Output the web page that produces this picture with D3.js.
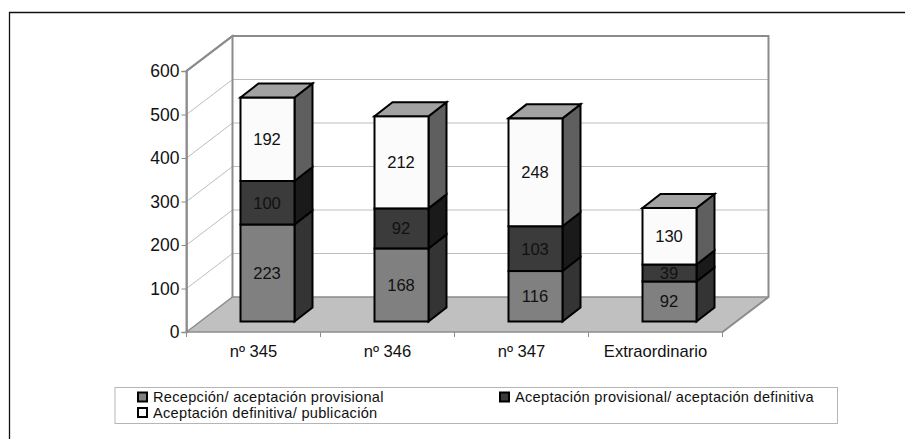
<!DOCTYPE html>
<html><head><meta charset="utf-8">
<script src="https://cdn.jsdelivr.net/npm/d3@7"></script>
<style>html,body{margin:0;padding:0;background:#fff}svg{display:block}text{font-family:"Liberation Sans",Arial,sans-serif;fill:#111}</style>
</head><body><svg id="c" width="905" height="439"></svg>
<script>
const categories=["nº 345","nº 346","nº 347","Extraordinario"];
const seriesNames=["Recepción/ aceptación provisional","Aceptación provisional/ aceptación definitiva","Aceptación definitiva/ publicación"];
const recepcion=[223,168,116,92];
const provisional=[100,92,103,39];
const definitiva=[192,212,248,130];
const yTicks=[0,100,200,300,400,500,600];
const frontColors=["#808080","#3b3b3b","#fbfbfb"];
const sideColors=["#343434","#1a1a1a","#5f5f5f"];
const topColor="#a2a2a2";

const svg=d3.select("#c");
const x=d3.scaleBand().domain(categories).range([186.5,722.5]);
const y=d3.scaleLinear().domain([0,600]).range([332,71]);
const dx=46,dy=-35;
const line=d3.line();

// frame
svg.append("path").attr("d","M9.5,439V12.5H905").attr("fill","none").attr("stroke","#111").attr("stroke-width",1.3);

// floor
svg.append("path").attr("d",line([[186.5,y(0)],[186.5+dx,y(0)+dy],[722.5+dx,y(0)+dy],[722.5,y(0)]])+"Z").attr("fill","#c0c0c0");
// walls gridlines
yTicks.forEach(t=>{
  if(t===0||t===600)return;
  svg.append("path").attr("d",line([[186.5,y(t)],[186.5+dx,y(t)+dy],[722.5+dx,y(t)+dy]])).attr("fill","none").attr("stroke","#bdbdbd").attr("stroke-width",1);
});
// wall outline
svg.append("path").attr("d",line([[186.5,y(0)],[186.5,y(600)],[186.5+dx,y(600)+dy],[722.5+dx,y(600)+dy],[722.5+dx,y(0)+dy],[722.5,y(0)]])).attr("fill","none").attr("stroke","#8c8c8c").attr("stroke-width",2);
svg.append("path").attr("d",line([[186.5,y(600)],[186.5+dx,y(600)+dy],[186.5+dx,y(0)+dy]])).attr("fill","none").attr("stroke","#8c8c8c").attr("stroke-width",2);
svg.append("path").attr("d",line([[186.5,y(0)],[186.5+dx,y(0)+dy],[722.5+dx,y(0)+dy]])).attr("fill","none").attr("stroke","#8c8c8c").attr("stroke-width",1.5);
// axis
svg.append("g").attr("transform","translate(186.5,0)")
  .call(d3.axisLeft(y).tickValues(yTicks).tickSize(5).tickPadding(2))
  .call(g=>{g.select(".domain").attr("stroke","#8c8c8c").attr("stroke-width",1.5);
    g.selectAll("line").attr("stroke","#8c8c8c");
    g.selectAll("text").attr("font-size",17.5).attr("font-family",null)});
svg.append("path").attr("d",line([[186.5,y(0)],[722.5,y(0)]])).attr("stroke","#8c8c8c").attr("stroke-width",1.5).attr("fill","none");
// category ticks
const ticks=categories.map(c=>x(c)).concat([722.5]);
svg.append("g").selectAll("line").data(ticks).join("line")
  .attr("x1",d=>d).attr("x2",d=>d).attr("y1",y(0)).attr("y2",y(0)+5).attr("stroke","#8c8c8c");
svg.append("g").selectAll("text").data(categories).join("text")
  .attr("x",c=>x(c)+x.bandwidth()/2).attr("y",357).attr("text-anchor","middle").attr("font-size",16.6).text(c=>c);

// bars
const series=[recepcion,provisional,definitiva];
const barW=54,ox=14,oy=-10.5,bx=18,by=-14;
categories.forEach((c,i)=>{
  const left=x(c)+x.bandwidth()/2-barW/2+ox;
  let cum=0;
  series.forEach((s,k)=>{
    const y0=y(cum)+oy,y1=y(cum+s[i])+oy;
    cum+=s[i];
    const g=svg.append("g").attr("stroke","#000").attr("stroke-width",2).attr("stroke-linejoin","miter");
    g.append("path").attr("d",line([[left+barW,y0],[left+barW+bx,y0+by],[left+barW+bx,y1+by],[left+barW,y1]])+"Z").attr("fill",sideColors[k]);
    g.append("rect").attr("x",left).attr("y",y1).attr("width",barW).attr("height",y0-y1).attr("fill",frontColors[k]);
    if(k===2) g.append("path").attr("d",line([[left,y1],[left+bx,y1+by],[left+barW+bx,y1+by],[left+barW,y1]])+"Z").attr("fill",topColor);
    svg.append("text").attr("x",left+barW/2-0.5).attr("y",(y0+y1)/2).attr("dy","0.36em").attr("text-anchor","middle").attr("font-size",16.6).text(s[i]);
  });
});

// legend
svg.append("rect").attr("x",115).attr("y",387.5).attr("width",722.5).attr("height",36).attr("fill","#fff").attr("stroke","#b5b5b5").attr("stroke-width",1);
const legendPos=[[138,397],[500,397],[138,412.5]];
seriesNames.forEach((n,k)=>{
  const [lx,ly]=legendPos[k];
  svg.append("rect").attr("x",lx).attr("y",ly-4.5).attr("width",9).attr("height",9).attr("fill",frontColors[k]).attr("stroke","#000").attr("stroke-width",2);
  svg.append("text").attr("x",lx+15).attr("y",ly).attr("dy","0.36em").attr("font-size",14.6).attr("letter-spacing",0.28).text(n);
});
</script></body></html>
